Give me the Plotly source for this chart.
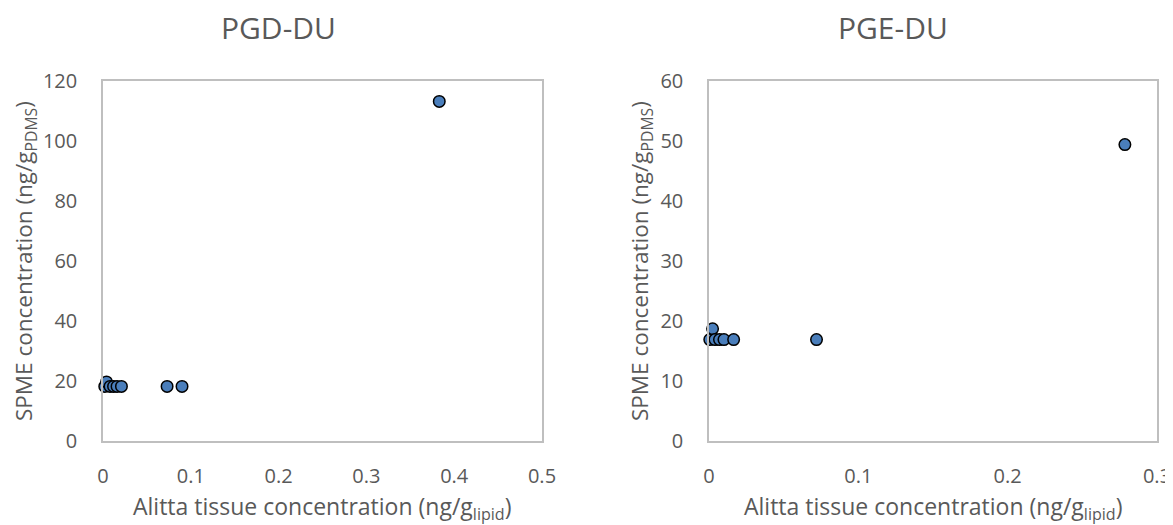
import plotly.graph_objects as go

# PGD-DU data
pgd_x = [0.002, 0.004, 0.008, 0.012, 0.016, 0.021, 0.073, 0.090, 0.383]
pgd_y = [18.2, 19.7, 18.2, 18.2, 18.2, 18.2, 18.2, 18.2, 113.2]

# PGE-DU data
pge_x = [0.0005, 0.0024, 0.004, 0.007, 0.010, 0.0165, 0.072, 0.2785]
pge_y = [16.9, 18.7, 16.9, 16.9, 16.9, 16.9, 16.9, 49.4]

titles = ["PGD-DU", "PGE-DU"]
x_ranges = [[0, 0.5], [0, 0.3]]
y_ranges = [[0, 120], [0, 60]]
x_dtick = [0.1, 0.1]
y_dtick = [20, 10]

OFF = 8  # page body margin offset
W, H = 1173 - OFF, 525 - OFF
FONT = "Open Sans"
GRAY = "#595959"
AXC = "#bfbfbf"


def px(v):
    return (v - OFF) / W


def py(v):
    return 1 - (v - OFF) / H


fig = go.Figure()
marker = dict(size=11.5, color="#4a7ebb", line=dict(color="black", width=1.5))
fig.add_trace(go.Scatter(x=pgd_x, y=pgd_y, mode="markers", marker=marker,
                         xaxis="x", yaxis="y", showlegend=False, cliponaxis=False))
fig.add_trace(go.Scatter(x=pge_x, y=pge_y, mode="markers", marker=marker,
                         xaxis="x2", yaxis="y2", showlegend=False, cliponaxis=False))

ydom = [py(441), py(81)]
xdoms = [[px(103), px(542)], [px(709), px(1157)]]


def xa(i):
    return dict(domain=xdoms[i], range=x_ranges[i], dtick=x_dtick[i], tick0=0,
                showgrid=False, zeroline=False, showline=True, linecolor=AXC,
                linewidth=1.5, mirror=True, ticks="", ticklabelstandoff=16,
                automargin=False,
                tickfont=dict(family=FONT, size=20, color=GRAY),
                anchor="y" if i == 0 else "y2")


def ya(i):
    return dict(domain=ydom, range=y_ranges[i], dtick=y_dtick[i], tick0=0,
                showgrid=False, zeroline=False, showline=True, linecolor=AXC,
                linewidth=1.5, mirror=True, ticks="", ticklabelstandoff=20,
                automargin=False,
                tickfont=dict(family=FONT, size=20, color=GRAY),
                anchor="x" if i == 0 else "x2")


fig.update_layout(
    width=W, height=H, margin=dict(l=0, r=0, t=0, b=0, pad=0),
    paper_bgcolor="white", plot_bgcolor="white",
    xaxis=xa(0), yaxis=ya(0), xaxis2=xa(1), yaxis2=ya(1),
)

anns = []
title_x = [278, 893]
ytitle_x = [25, 641]
for i in range(2):
    anns.append(dict(text=titles[i], x=px(title_x[i]), y=py(28), xref="paper", yref="paper",
                     showarrow=False, xanchor="center", yanchor="middle",
                     font=dict(family=FONT, size=30, color=GRAY)))
    xc = (xdoms[i][0] + xdoms[i][1]) / 2
    anns.append(dict(text="Alitta tissue concentration (ng/g<sub>lipid</sub>)", x=xc, y=py(507),
                     xref="paper", yref="paper", showarrow=False, xanchor="center", yanchor="middle",
                     font=dict(family=FONT, size=23, color=GRAY)))
    anns.append(dict(text="SPME concentration (ng/g<sub>PDMS</sub>)", x=px(ytitle_x[i]),
                     y=(ydom[0] + ydom[1]) / 2,
                     xref="paper", yref="paper", showarrow=False, xanchor="center", yanchor="middle",
                     textangle=-90, font=dict(family=FONT, size=22.5, color=GRAY)))
fig.update_layout(annotations=anns)

fig.write_html("out.html")
